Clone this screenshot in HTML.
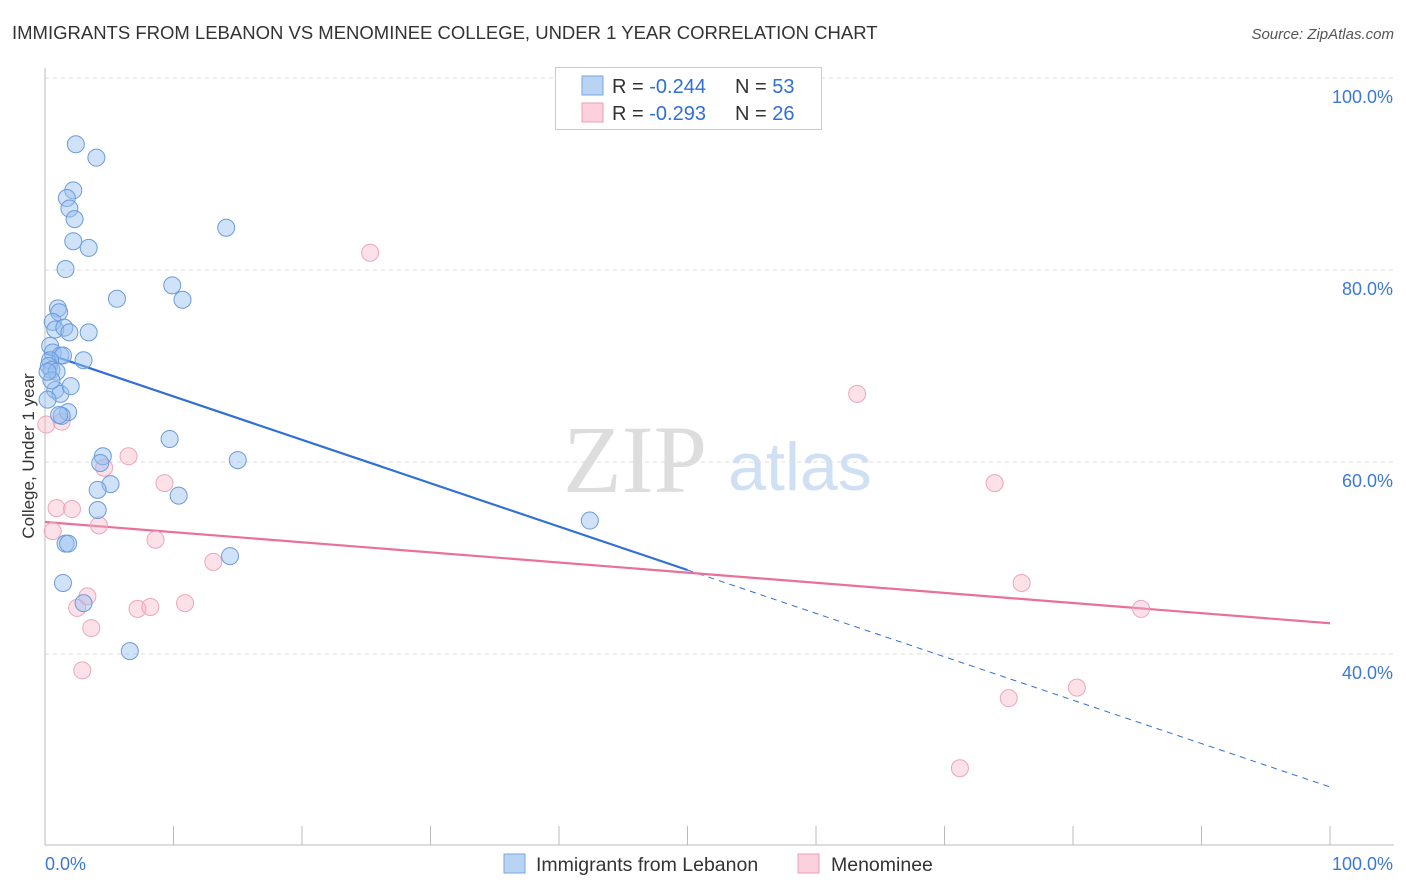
<!DOCTYPE html>
<html><head><meta charset="utf-8"><style>
body{margin:0;background:#fff;font-family:"Liberation Sans",sans-serif;}
svg{display:block}
</style></head><body>
<svg id="chart" width="1406" height="892" xmlns="http://www.w3.org/2000/svg" font-family="Liberation Sans, sans-serif">
<text x="12" y="39" font-size="18.5" fill="#333">IMMIGRANTS FROM LEBANON VS MENOMINEE COLLEGE, UNDER 1 YEAR CORRELATION CHART</text>
<text x="1394" y="39" font-size="15" fill="#555" font-style="italic" text-anchor="end">Source: ZipAtlas.com</text>
<text x="34" y="456" font-size="17" fill="#333" text-anchor="middle" transform="rotate(-90 34 456)">College, Under 1 year</text>
<g>
<text x="635" y="492" font-size="96" fill="#ddd" font-family="Liberation Serif, serif" text-anchor="middle">ZIP</text>
<text x="800" y="490" font-size="68" fill="#cfe0f5" text-anchor="middle">atlas</text>
</g>
<g id="grid"></g>
<g id="axes"></g>
<g id="lines"></g>
<g id="pts"></g>
<g>
<rect x="555.5" y="67.5" width="266" height="62" fill="#fff" stroke="#ccc"/>
<rect x="582" y="76" width="21" height="19" fill="#b9d3f5" stroke="#7aa6e0"/>
<rect x="582" y="103" width="21" height="19" fill="#fcd0dc" stroke="#ef9fb6"/>
<text x="612" y="93" font-size="20" fill="#333">R = <tspan fill="#2f6fd6">-0.244</tspan><tspan x="735">N = </tspan><tspan fill="#2f6fd6">53</tspan></text>
<text x="612" y="120" font-size="20" fill="#333">R = <tspan fill="#2f6fd6"> -0.293</tspan><tspan x="735">N = </tspan><tspan fill="#2f6fd6">26</tspan></text>
</g>
<g>
<rect x="504" y="854" width="21" height="19" fill="#b9d3f5" stroke="#7aa6e0"/>
<text x="536" y="871" font-size="19.5" fill="#333">Immigrants from Lebanon</text>
<rect x="798" y="854" width="21" height="19" fill="#fcd0dc" stroke="#ef9fb6"/>
<text x="831" y="871" font-size="19.5" fill="#333">Menominee</text>
</g>
</svg>
<script>
const yTicks=[40,60,80,100];
const yTickLabels=["40.0%","60.0%","80.0%","100.0%"];
const blueX=[2.4,4.0,2.2,1.7,1.9,2.3,2.2,3.4,14.1,1.6,9.9,10.7,5.6,1.0,1.1,0.6,0.8,1.5,1.9,3.4,0.4,0.6,1.2,1.4,0.4,3.0,0.3,0.5,0.9,0.8,1.2,2.0,1.8,1.3,1.1,9.7,4.5,4.3,15.0,5.1,4.1,10.4,4.1,42.4,1.6,1.8,14.4,1.4,3.0,6.6,0.2,0.5,0.2];
const blueY=[93.1,91.7,88.3,87.5,86.4,85.3,83.0,82.3,84.4,80.1,78.4,76.9,77.0,76.0,75.6,74.6,73.8,74.0,73.5,73.5,72.1,71.4,71.1,71.1,70.6,70.6,70.0,69.6,69.4,67.5,67.1,67.9,65.2,64.8,64.9,62.4,60.6,59.9,60.2,57.7,57.1,56.5,55.0,53.9,51.5,51.5,50.2,47.4,45.3,40.3,66.5,68.5,69.4];
const pinkX=[25.3,63.2,73.9,76.0,85.3,80.3,75.0,71.2,0.1,1.3,4.6,6.5,9.3,0.9,2.1,4.2,0.6,8.6,13.1,3.3,2.5,7.2,8.2,10.9,3.6,2.9];
const pinkY=[81.8,67.1,57.8,47.4,44.7,36.5,35.4,28.1,63.9,64.2,59.4,60.6,57.8,55.2,55.1,53.4,52.8,51.9,49.6,46.0,44.8,44.7,44.9,45.3,42.7,38.3];
const blueFit=[71.35,26.15], pinkFit=[53.75,43.2];
const blueSolidEnd=50.0;
const X=v=>45+v*12.85, Y=v=>78+(100-v)*9.6;
const NS="http://www.w3.org/2000/svg";
function mk(tag,attrs,parent){const e=document.createElementNS(NS,tag);for(const k in attrs)e.setAttribute(k,attrs[k]);document.getElementById(parent).appendChild(e);return e;}
yTicks.forEach((t,i)=>{
 const g=mk('line',{x1:45,x2:1394,y1:Y(t),y2:Y(t),stroke:'#ddd','stroke-dasharray':'4,4'},'grid');
 
 
 const l=mk('text',{x:1393,y:Y(t)+25,'font-size':18,fill:'#3a78d8','text-anchor':'end'},'axes');l.textContent=yTickLabels[i];
 
 
});
const ax=mk('line',{x1:45,x2:45,y1:68,y2:845,stroke:'#bbb'},'axes');


const bx=mk('line',{x1:45,x2:1394,y1:845,y2:845,stroke:'#bbb'},'axes');


for(let i=0;i<=10;i++){const t=mk('line',{x1:X(i*10),x2:X(i*10),y1:826,y2:845,stroke:'#bbb'},'axes');
 
 }
const xl0=mk('text',{x:45,y:870,'font-size':18,fill:'#3a78d8'},'axes');xl0.textContent='0.0%';


const xl1=mk('text',{x:1393,y:870,'font-size':18,fill:'#3a78d8','text-anchor':'end'},'axes');xl1.textContent='100.0%';


function pts(xs,ys,fill,stroke,name){xs.forEach((x,i)=>{const c=mk('circle',{cx:X(x),cy:Y(ys[i]),r:8.5,fill:fill,stroke:stroke,'stroke-width':1},'pts');
 
 });}
pts(pinkX,pinkY,'rgba(248,180,200,0.4)','#eca6bb','menominee-point');
pts(blueX,blueY,'rgba(150,190,240,0.45)','#6b9bdc','lebanon-point');
const fb=v=>blueFit[0]+(blueFit[1]-blueFit[0])*v/100;
const b1=mk('line',{x1:X(0),y1:Y(fb(0)),x2:X(blueSolidEnd),y2:Y(fb(blueSolidEnd)),stroke:'#2f6fd6','stroke-width':2.2},'lines');


const b2=mk('line',{x1:X(blueSolidEnd),y1:Y(fb(blueSolidEnd)),x2:X(100),y2:Y(fb(100)),stroke:'#2f6fd6','stroke-width':1,'stroke-dasharray':'6,5'},'lines');


const p1=mk('line',{x1:X(0),y1:Y(pinkFit[0]),x2:X(100),y2:Y(pinkFit[1]),stroke:'#e8709a','stroke-width':2.2},'lines');


</script>
</body></html>
